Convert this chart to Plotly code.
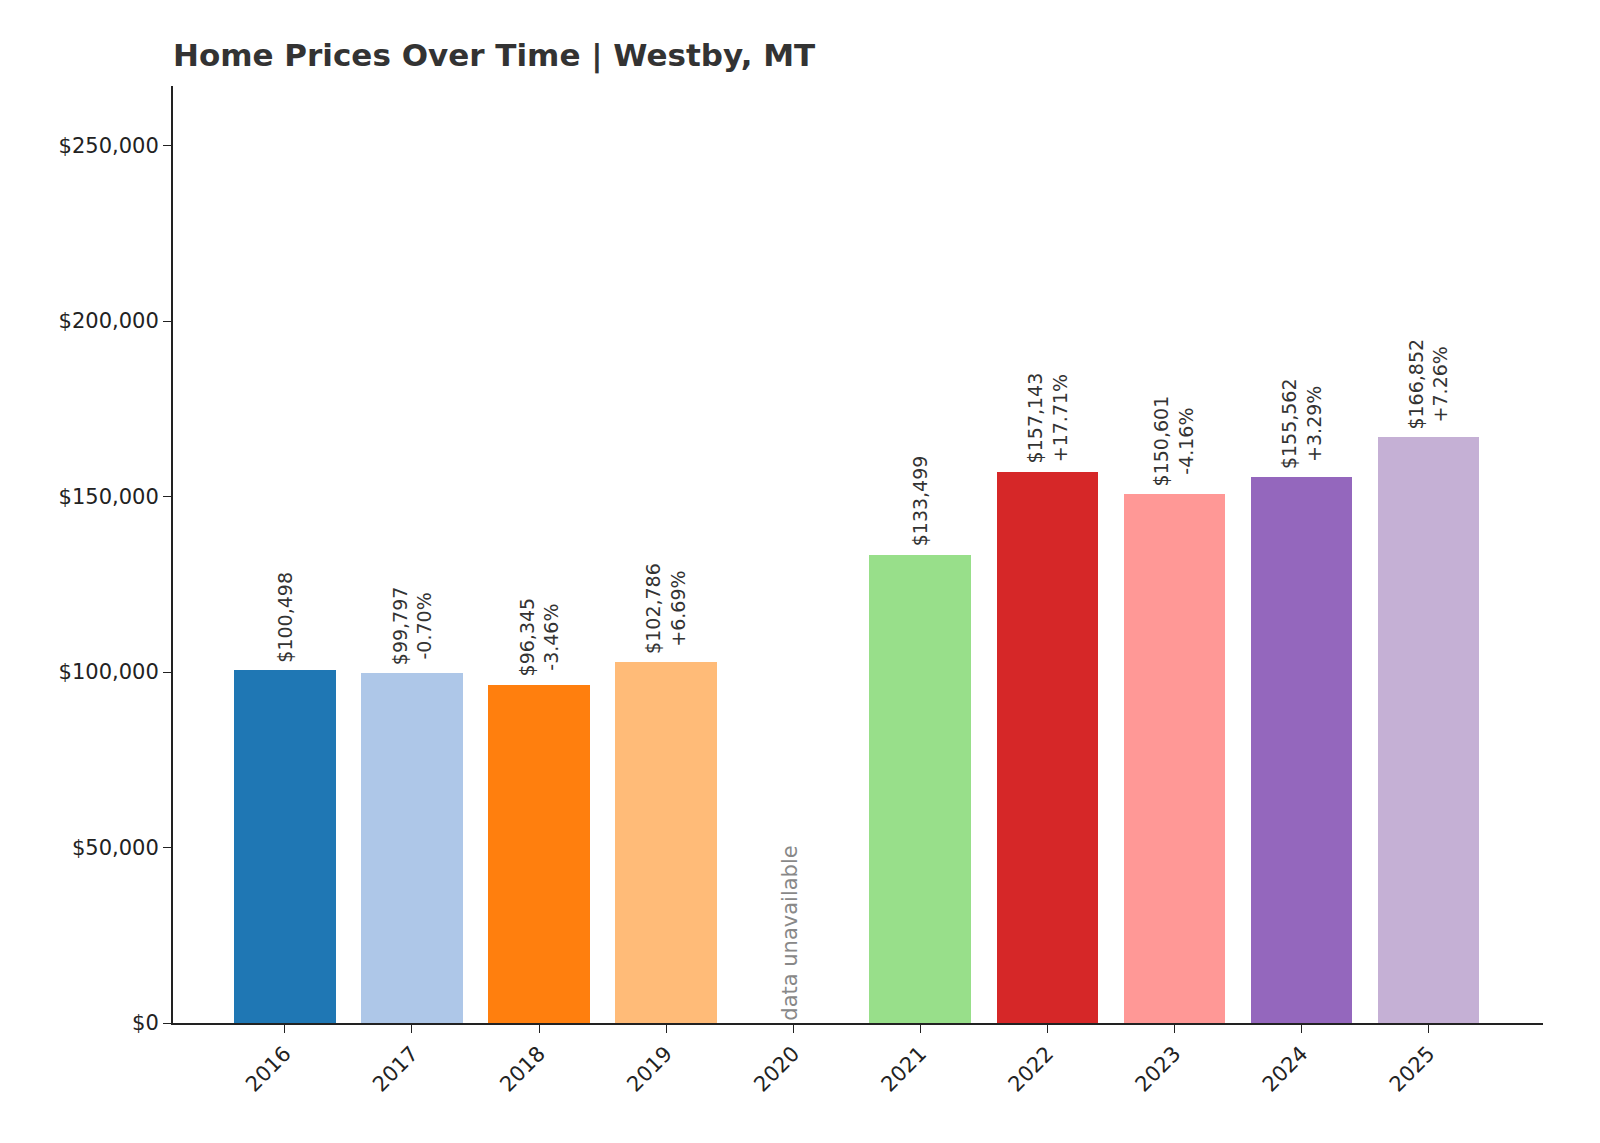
import plotly.graph_objects as go

years = ["2016","2017","2018","2019","2020","2021","2022","2023","2024","2025"]
values = [100498, 99797, 96345, 102786, None, 133499, 157143, 150601, 155562, 166852]
changes = [None, "-0.70%", "-3.46%", "+6.69%", None, None, "+17.71%", "-4.16%", "+3.29%", "+7.26%"]
colors = ["#1f77b4","#aec7e8","#ff7f0e","#ffbb78","#2ca02c","#98df8a","#d62728","#ff9896","#9467bd","#c5b0d5"]

xs = list(range(len(years)))
fig = go.Figure()
fig.add_trace(go.Bar(x=xs, y=[v if v is not None else 0 for v in values], marker_color=colors,
                     marker_line_width=0, width=0.8, hoverinfo="skip"))

for i, v in enumerate(values):
    if v is None:
        fig.add_annotation(x=i, y=0, text="data unavailable", textangle=-90, showarrow=False,
                           xanchor="right", yanchor="bottom", xshift=10,
                           font=dict(size=21, color="#888888"))
        continue
    t = f"${v:,}" if changes[i] is None else f"${v:,}<br>{changes[i]}"
    fig.add_annotation(x=i, y=v, text=t, textangle=-90, showarrow=False,
                       yanchor="bottom", yshift=6, font=dict(size=19, color="#333333"))

fig.update_layout(
    width=1600, height=1143, plot_bgcolor="white", paper_bgcolor="white",
    font=dict(family="DejaVu Sans", size=21, color="#222222"),
    margin=dict(l=165, r=65, t=78, b=128),
    showlegend=False, bargap=0,
    title=dict(text="<b>Home Prices Over Time | Westby, MT</b>", x=165/1600, xanchor="left",
               y=1-47/1143, yanchor="middle", font=dict(size=31, color="#333333")),
)
fig.update_xaxes(range=[-0.88, 9.9], tickvals=xs, ticktext=years, tickangle=-45,
                 ticks="outside", ticklen=8, tickcolor="#222", showline=True,
                 linecolor="#222", linewidth=2, showgrid=False, zeroline=False)
fig.update_yaxes(range=[0, 267000], tickvals=[0,50000,100000,150000,200000,250000],
                 ticktext=["$0","$50,000","$100,000","$150,000","$200,000","$250,000"],
                 ticks="outside", ticklen=8, tickcolor="#222", showline=True,
                 linecolor="#222", linewidth=2, showgrid=False, zeroline=False)
fig.write_html("out.html")
